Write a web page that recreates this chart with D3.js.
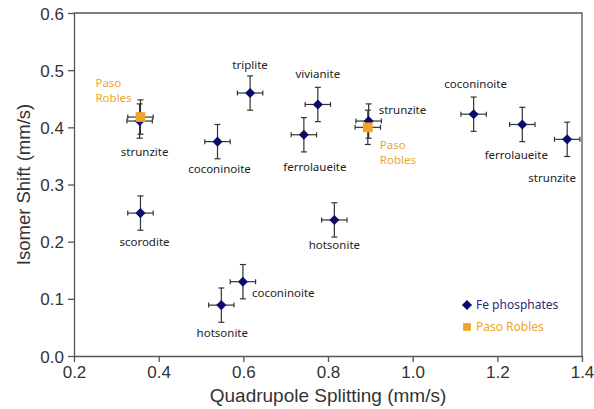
<!DOCTYPE html>
<html>
<head>
<meta charset="utf-8">
<script src="https://cdn.jsdelivr.net/npm/d3@7"></script>
<style>
body { margin: 0; background: #fff; }
</style>
</head>
<body>
<div id="chart-area"></div>
<script>
// Fe phosphates (quadrupole splitting, isomer shift)
var feNames = ["strunzite", "scorodite", "triplite", "vivianite", "ferrolaueite", "coconinoite",
    "strunzite", "hotsonite", "hotsonite", "coconinoite", "coconinoite", "ferrolaueite", "strunzite"];
var feQS = [0.355, 0.357, 0.616, 0.776, 0.743, 0.539, 0.896, 0.815, 0.548, 0.599, 1.144, 1.259, 1.365];
var feIS = [0.411, 0.250, 0.460, 0.440, 0.387, 0.375, 0.411, 0.238, 0.089, 0.130, 0.423, 0.405, 0.379];

// Paso Robles samples
var prQS = [0.357, 0.894];
var prIS = [0.418, 0.400];

var errQS = 0.03;
var errIS = 0.03;

var xTicks = [0.2, 0.4, 0.6, 0.8, 1.0, 1.2, 1.4];
var yTicks = [0.0, 0.1, 0.2, 0.3, 0.4, 0.5, 0.6];

// label placement (px offsets from the marker)
var feLabelPos = [
    [5, 35, "middle"], [4, 33, "middle"], [0, -24, "middle"], [0, -26, "middle"],
    [11, 36, "middle"], [2, 31, "middle"], [10, -7, "start"], [0, 29, "middle"],
    [1, 32, "middle"], [9, 15, "start"], [2, -26, "middle"], [-6, 35, "middle"],
    [-15, 43, "middle"]
];
var prLabelPos = [[-45, -30], [12, 22]];

var width = 594, height = 409;
var margin = { left: 74, right: 12, top: 13, bottom: 53 };

var svg = d3.select("#chart-area").append("svg")
    .attr("width", width)
    .attr("height", height);

var x = d3.scaleLinear().domain([0.2, 1.4]).range([margin.left, width - margin.right]);
var y = d3.scaleLinear().domain([0, 0.6]).range([height - margin.bottom, margin.top]);

var axisColor = "#555";

// frame top + right
svg.append("path")
    .attr("d", "M" + x(0.2) + "," + y(0.6) + "H" + x(1.4) + "V" + y(0))
    .attr("fill", "none")
    .attr("stroke", axisColor)
    .attr("stroke-width", 1.3);

var bottomAxis = d3.axisBottom(x).tickValues(xTicks).tickFormat(d3.format(".1f"))
    .tickSizeInner(6).tickSizeOuter(0).tickPadding(4);
var gx = svg.append("g")
    .attr("transform", "translate(0," + y(0) + ")")
    .call(bottomAxis);

var leftAxis = d3.axisLeft(y).tickValues(yTicks).tickFormat(d3.format(".1f"))
    .tickSizeInner(6).tickSizeOuter(0).tickPadding(4);
var gy = svg.append("g")
    .attr("transform", "translate(" + x(0.2) + ",0)")
    .call(leftAxis);

[gx, gy].forEach(function(g) {
    g.selectAll("path, line").attr("stroke", axisColor).attr("stroke-width", 1.3);
    g.selectAll("text")
        .attr("fill", "#333")
        .style("font-family", "'Liberation Sans', Arial, sans-serif")
        .style("font-size", "17px");
});
gy.selectAll("text").attr("dy", "0.36em");

// axis labels
svg.append("text")
    .attr("x", (x(0.2) + x(1.4)) / 2)
    .attr("y", 402)
    .attr("text-anchor", "middle")
    .style("font-family", "'Liberation Sans', Arial, sans-serif")
    .style("font-size", "19px")
    .attr("fill", "#333")
    .text("Quadrupole Splitting (mm/s)");

svg.append("text")
    .attr("transform", "translate(30," + ((y(0) + y(0.6)) / 2) + ") rotate(-90)")
    .attr("text-anchor", "middle")
    .style("font-family", "'Liberation Sans', Arial, sans-serif")
    .style("font-size", "18.5px")
    .attr("fill", "#333")
    .text("Isomer Shift (mm/s)");

var fe = feQS.map(function(d, i) { return { qs: d, is: feIS[i], name: feNames[i], pos: feLabelPos[i] }; });
var pr = prQS.map(function(d, i) { return { qs: d, is: prIS[i], pos: prLabelPos[i] }; });

function errorBars(g, data) {
    var bars = g.selectAll(null).data(data).enter().append("g")
        .attr("stroke", "#333")
        .attr("stroke-width", 1.2);
    bars.append("line")
        .attr("x1", function(d) { return x(d.qs - errQS); })
        .attr("x2", function(d) { return x(d.qs + errQS); })
        .attr("y1", function(d) { return y(d.is); })
        .attr("y2", function(d) { return y(d.is); });
    bars.append("line")
        .attr("x1", function(d) { return x(d.qs); })
        .attr("x2", function(d) { return x(d.qs); })
        .attr("y1", function(d) { return y(d.is - errIS); })
        .attr("y2", function(d) { return y(d.is + errIS); });
    [-1, 1].forEach(function(s) {
        bars.append("line")
            .attr("x1", function(d) { return x(d.qs + s * errQS); })
            .attr("x2", function(d) { return x(d.qs + s * errQS); })
            .attr("y1", function(d) { return y(d.is) - 2.5; })
            .attr("y2", function(d) { return y(d.is) + 2.5; });
        bars.append("line")
            .attr("x1", function(d) { return x(d.qs) - 3; })
            .attr("x2", function(d) { return x(d.qs) + 3; })
            .attr("y1", function(d) { return y(d.is + s * errIS); })
            .attr("y2", function(d) { return y(d.is + s * errIS); });
    });
}

var plot = svg.append("g");
errorBars(plot, fe);
errorBars(plot, pr);

var navy = "#0b0b6b";
var orange = "#eda629";

var diamond = d3.symbol().type(d3.symbolDiamond2).size(65);
var square = d3.symbol().type(d3.symbolSquare).size(95);

plot.selectAll(".fe").data(fe).enter().append("path")
    .attr("class", "fe")
    .attr("d", diamond)
    .attr("transform", function(d) { return "translate(" + x(d.qs) + "," + y(d.is) + ")"; })
    .attr("fill", navy);

plot.selectAll(".pr").data(pr).enter().append("path")
    .attr("class", "pr")
    .attr("d", square)
    .attr("transform", function(d) { return "translate(" + x(d.qs) + "," + y(d.is) + ")"; })
    .attr("fill", orange);

var labelFont = "'Noto Sans', 'Open Sans', sans-serif";

plot.selectAll(".fe-label").data(fe).enter().append("text")
    .attr("class", "fe-label")
    .attr("x", function(d) { return x(d.qs) + d.pos[0]; })
    .attr("y", function(d) { return y(d.is) + d.pos[1]; })
    .attr("text-anchor", function(d) { return d.pos[2]; })
    .style("font-family", labelFont)
    .style("font-size", "11.5px")
    .attr("fill", "#222")
    .text(function(d) { return d.name; });

var prLabels = plot.selectAll(".pr-label").data(pr).enter().append("text")
    .attr("class", "pr-label")
    .attr("x", function(d) { return x(d.qs) + d.pos[0]; })
    .attr("y", function(d) { return y(d.is) + d.pos[1]; })
    .style("font-family", labelFont)
    .style("font-size", "11.5px")
    .attr("fill", orange);
prLabels.append("tspan").text("Paso");
prLabels.append("tspan")
    .attr("x", function(d) { return x(d.qs) + d.pos[0]; })
    .attr("dy", 15)
    .text("Robles");

// legend
var legend = svg.append("g").attr("transform", "translate(467,305)");
legend.append("path").attr("d", diamond).attr("fill", navy);
legend.append("text")
    .attr("x", 9).attr("y", 4)
    .style("font-family", labelFont).style("font-size", "12px")
    .attr("fill", "#2a2a7a")
    .text("Fe phosphates");
legend.append("path").attr("d", d3.symbol().type(d3.symbolSquare).size(60))
    .attr("transform", "translate(0,22)").attr("fill", orange);
legend.append("text")
    .attr("x", 9).attr("y", 26)
    .style("font-family", labelFont).style("font-size", "12px")
    .attr("fill", orange)
    .text("Paso Robles");
</script>
</body>
</html>
